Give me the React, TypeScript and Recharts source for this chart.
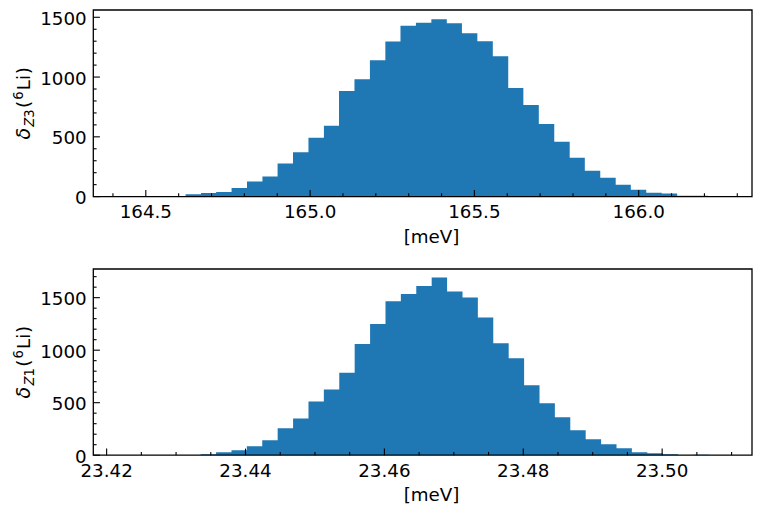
import React from 'react';
import { ComposedChart, Area, XAxis, YAxis, ReferenceArea, Label } from 'recharts';

const FONT = 'DejaVu Sans';
const FS = 18.3;
const BLUE = '#1f77b4';

// ---------- Top histogram: delta_Z3(6Li) ----------
const topBinEdges = [
  164.621, 164.668, 164.714, 164.761, 164.808, 164.855, 164.901, 164.948, 164.995, 165.042,
  165.088, 165.135, 165.182, 165.229, 165.275, 165.322, 165.369, 165.416, 165.462, 165.509,
  165.556, 165.603, 165.649, 165.696, 165.743, 165.790, 165.836, 165.883, 165.930, 165.976,
  166.023, 166.070, 166.117, 166.163, 166.210,
];
const topCounts = [
  19, 30, 39, 72, 127, 169, 277, 371, 492, 592,
  883, 982, 1140, 1298, 1430, 1455, 1483, 1450, 1367, 1300,
  1175, 908, 767, 608, 458, 325, 217, 158, 100, 58,
  33, 25, 8, 8,
];
const topXMajor = [164.5, 165.0, 165.5, 166.0];
const topXMinor = [164.4, 164.6, 164.7, 164.8, 164.9, 165.1, 165.2, 165.3, 165.4, 165.6, 165.7, 165.8, 165.9, 166.1, 166.2, 166.3];
const topYMajor = [0, 500, 1000, 1500];
const topYMinor = [100, 200, 300, 400, 600, 700, 800, 900, 1100, 1200, 1300, 1400];
const topXDomain = [164.3402, 166.3448];
const topYMax = 1561;

// ---------- Bottom histogram: delta_Z1(6Li) ----------
const botBinEdges = [
  23.43354, 23.43576, 23.43798, 23.44019, 23.44241, 23.44463, 23.44685, 23.44907, 23.45128, 23.4535,
  23.45572, 23.45794, 23.46016, 23.46237, 23.46459, 23.46681, 23.46903, 23.47125, 23.47346, 23.47568,
  23.4779, 23.48012, 23.48234, 23.48455, 23.48677, 23.48899, 23.49121, 23.49343, 23.49564, 23.49786,
  23.50008, 23.5023, 23.50452, 23.50673,
];
const botCounts = [
  9, 28, 47, 85, 142, 256, 350, 511, 625, 786,
  1060, 1250, 1467, 1534, 1610, 1692, 1559, 1502, 1312, 1065,
  922, 665, 494, 361, 238, 152, 105, 67, 29, 19,
  10, 1, 4,
];
const botXMajor = [23.42, 23.44, 23.46, 23.48, 23.5];
const botXMinor = [23.425, 23.43, 23.435, 23.445, 23.45, 23.455, 23.465, 23.47, 23.475, 23.485, 23.49, 23.495, 23.505, 23.51];
const botYMajor = [0, 500, 1000, 1500];
const botYMinor = [100, 200, 300, 400, 600, 700, 800, 900, 1100, 1200, 1300, 1400, 1600, 1700];
const botXDomain = [23.41808, 23.51294];
const botYMax = 1773;

const makeTable = (edges: number[], counts: number[]) =>
  edges.map((x, i) => ({ x, y: counts[Math.min(i, counts.length - 1)] }));

const isIn = (list: number[], v: number) => list.some((m) => Math.abs(m - v) < 1e-9);

const makeXTick = (majors: number[], digits: number) => (props: any) => {
  const { x, y, payload } = props;
  const v = payload.value as number;
  const major = isIn(majors, v);
  return (
    <g>
      <line x1={x} x2={x} y1={y} y2={y - (major ? 6.6 : 3.3)} stroke="#000" strokeWidth={1.1} />
      {major && (
        <text x={x} y={y + 21.7} textAnchor="middle" fontFamily={FONT} fontSize={FS} fill="#000">
          {v.toFixed(digits)}
        </text>
      )}
    </g>
  );
};

const makeYTick = (majors: number[]) => (props: any) => {
  const { x, y, payload } = props;
  const v = payload.value as number;
  const major = isIn(majors, v);
  return (
    <g>
      <line x1={x} x2={x + (major ? 6.6 : 3.3)} y1={y} y2={y} stroke="#000" strokeWidth={1.1} />
      {major && (
        <text x={x - 6.6} y={y + 7.6} textAnchor="end" fontFamily={FONT} fontSize={FS} fill="#000">
          {String(v)}
        </text>
      )}
    </g>
  );
};

const XLabelText = (cx: number, by: number) => () => (
  <text x={cx} y={by} textAnchor="middle" fontFamily={FONT} fontSize={FS} fill="#000">
    [meV]
  </text>
);

const YLabelText = (bx: number, cy: number, sub: string) => () => (
  <text
    x={bx}
    y={cy}
    transform={`rotate(-90, ${bx}, ${cy})`}
    textAnchor="middle"
    fontFamily={FONT}
    fontSize={FS}
    fill="#000"
  >
    <tspan fontStyle="italic" fontSize={FS * 1.04}>δ</tspan>
    <tspan fontStyle="italic" fontSize={FS * 0.72} dx={1.2} dy={3.8}>{sub[0]}</tspan>
    <tspan fontSize={FS * 0.72}>{sub.slice(1)}</tspan>
    <tspan dx={1.5} dy={-3.8}>(</tspan>
    <tspan fontSize={FS * 0.72} dx={1} dy={-7.2}>6</tspan>
    <tspan dx={1.2} dy={7.2}>Li</tspan>
    <tspan dx={0.8}>)</tspan>
  </text>
);

type HistProps = {
  edges: number[];
  counts: number[];
  xMajor: number[];
  xMinor: number[];
  yMajor: number[];
  yMinor: number[];
  xDomain: number[];
  yMax: number;
  digits: number;
  height: number;
  marginTop: number;
  xAxisHeight: number;
  xLabelY: number;
  yLabelY: number;
  sub: string;
};

const Hist = (p: HistProps) => {
  const data = makeTable(p.edges, p.counts);
  const xTicks = [...p.xMajor, ...p.xMinor].sort((a, b) => a - b);
  const yTicks = [...p.yMajor, ...p.yMinor].sort((a, b) => a - b);
  return (
    <ComposedChart
      width={761}
      height={p.height}
      data={data}
      margin={{ top: p.marginTop, right: 9, bottom: 0, left: 0 }}
    >
      <Area
        dataKey="y"
        type="stepAfter"
        stroke="none"
        fill={BLUE}
        fillOpacity={1}
        dot={false}
        activeDot={false}
        isAnimationActive={false}
      />
      <XAxis
        dataKey="x"
        type="number"
        domain={[p.xDomain[0], p.xDomain[1]]}
        allowDataOverflow
        ticks={xTicks}
        interval={0}
        tickSize={0}
        tickMargin={0}
        axisLine={false}
        tickLine={false}
        height={p.xAxisHeight}
        tick={makeXTick(p.xMajor, p.digits)}
      >
        <Label content={XLabelText(431.6, p.xLabelY)} />
      </XAxis>
      <YAxis
        type="number"
        domain={[0, p.yMax]}
        allowDataOverflow
        ticks={yTicks}
        interval={0}
        tickSize={0}
        tickMargin={0}
        axisLine={false}
        tickLine={false}
        width={93.3}
        tick={makeYTick(p.yMajor)}
      >
        <Label content={YLabelText(30.5, p.yLabelY, p.sub)} />
      </YAxis>
      <ReferenceArea
        x1={p.xDomain[0]}
        x2={p.xDomain[1]}
        y1={0}
        y2={p.yMax}
        fill="none"
        fillOpacity={0}
        stroke="#000"
        strokeWidth={1.3}
        ifOverflow="visible"
      />
    </ComposedChart>
  );
};

export default function App() {
  return (
    <div style={{ position: 'absolute', left: 0, top: 0, width: 761, height: 507, background: '#fff' }}>
      <div style={{ position: 'absolute', left: 0, top: 0 }}>
        <Hist
          edges={topBinEdges}
          counts={topCounts}
          xMajor={topXMajor}
          xMinor={topXMinor}
          yMajor={topYMajor}
          yMinor={topYMinor}
          xDomain={topXDomain}
          yMax={topYMax}
          digits={1}
          height={254}
          marginTop={10}
          xAxisHeight={57.4}
          xLabelY={242.6}
          yLabelY={103.3}
          sub="Z3"
        />
      </div>
      <div style={{ position: 'absolute', left: 0, top: 254 }}>
        <Hist
          edges={botBinEdges}
          counts={botCounts}
          xMajor={botXMajor}
          xMinor={botXMinor}
          yMajor={botYMajor}
          yMinor={botYMinor}
          xDomain={botXDomain}
          yMax={botYMax}
          digits={2}
          height={253}
          marginTop={15}
          xAxisHeight={51.8}
          xLabelY={247.2}
          yLabelY={108.1}
          sub="Z1"
        />
      </div>
    </div>
  );
}
